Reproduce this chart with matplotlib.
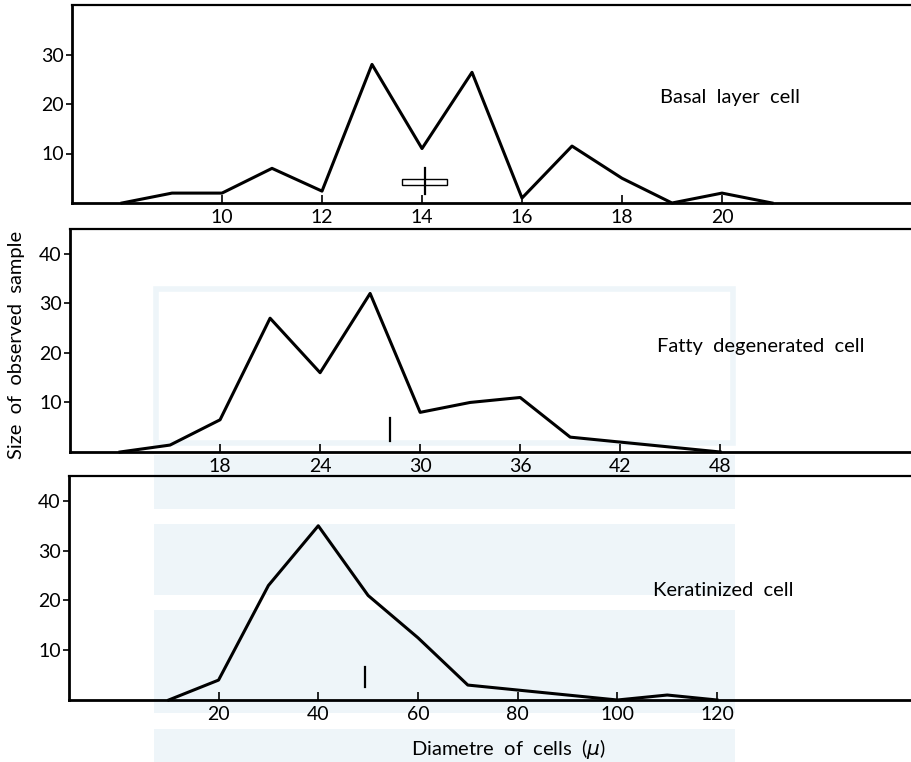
import matplotlib
matplotlib.use("Agg")
import matplotlib.pyplot as plt
from matplotlib.patches import Rectangle

plt.rcParams['font.family'] = ['Lato', 'DejaVu Sans']

# basal layer cells
basal_x = [8, 9, 10, 11, 12, 13, 14, 15, 16, 17, 18, 19, 20, 21]
basal_n = [0, 2, 2, 7, 2.4, 28, 11, 26.4, 1, 11.5, 5, 0, 2, 0]
basal_mean = 14.07
basal_ci = (13.6, 14.5)
basal_band = (3.6, 4.9)
basal_range = (1.8, 7.1)

# fatty degenerated cells
fatty_x = [12, 15, 18, 21, 24, 27, 30, 33, 36, 39, 42, 45, 48]
fatty_n = [0, 1.4, 6.5, 27, 16, 32, 8, 10, 11, 3, 2, 1, 0]
fatty_mean = 28.2
fatty_range = (2.3, 6.8)

# keratinized cells
kera_x = [10, 20, 30, 40, 50, 60, 70, 80, 90, 100, 110, 120]
kera_n = [0, 4, 23, 35, 21, 12.5, 3, 2, 1, 0, 1, 0]
kera_mean = 49.4
kera_range = (2.7, 6.6)

W, H = 912, 762
fig = plt.figure(figsize=(W / 100, H / 100), dpi=100)

# faint background watermark
wm = '#eef5f9'
fig.patches.append(Rectangle((156 / W, 1 - 443 / H), 577 / W, 154 / H,
                             transform=fig.transFigure, fill=False,
                             ec=wm, lw=4, zorder=-5))
for top, bot in [(455, 509), (524, 595), (610, 713), (729, 762)]:
    fig.patches.append(Rectangle((154 / W, 1 - bot / H), 581 / W, (bot - top) / H,
                                 transform=fig.transFigure, color=wm, lw=0, zorder=-5))


def panel(left, top, bottom, xlim, ylim, xticks, yticks):
    ax = fig.add_axes([left / W, 1 - bottom / H, (W - left) / W, (bottom - top) / H])
    ax.patch.set_alpha(0)
    ax.set_xlim(*xlim)
    ax.set_ylim(*ylim)
    ax.set_xticks(xticks)
    ax.set_yticks(yticks)
    ax.spines['right'].set_visible(False)
    for s in ['left', 'bottom']:
        ax.spines[s].set_linewidth(2)
    ax.spines['top'].set_linewidth(1.6)
    ax.tick_params(axis='x', direction='in', length=6, width=1.2, labelsize=14, pad=4)
    ax.tick_params(axis='y', direction='out', length=4, width=1.2, labelsize=14, pad=2)
    return ax


lw = 2.2

ax1 = panel(72, 5, 203, (7, 23.8), (0, 40), [10, 12, 14, 16, 18, 20], [10, 20, 30])
ax1.plot(basal_x, basal_n, color='black', lw=lw, clip_on=False)
ax1.add_patch(Rectangle((basal_ci[0], basal_band[0]), basal_ci[1] - basal_ci[0],
                        basal_band[1] - basal_band[0], fill=False, ec='black', lw=1))
ax1.plot([basal_mean, basal_mean], basal_range, color='black', lw=1.6)
ax1.text(0.70, 0.535, 'Basal  layer  cell', transform=ax1.transAxes,
         fontsize=14.5, va='center')

ax2 = panel(70, 229, 452, (9, 59.5), (0, 45), [18, 24, 30, 36, 42, 48], [10, 20, 30, 40])
ax2.plot(fatty_x, fatty_n, color='black', lw=lw, clip_on=False)
ax2.plot([fatty_mean, fatty_mean], fatty_range, color='black', lw=1.6)
ax2.text(0.697, 0.471, 'Fatty  degenerated  cell', transform=ax2.transAxes,
         fontsize=14.5, va='center')

ax3 = panel(69, 476, 700, (-10, 159.1), (0, 45), [20, 40, 60, 80, 100, 120], [10, 20, 30, 40])
ax3.plot(kera_x, kera_n, color='black', lw=lw, clip_on=False)
ax3.plot([kera_mean, kera_mean], kera_range, color='black', lw=1.6)
ax3.text(0.693, 0.487, 'Keratinized  cell', transform=ax3.transAxes,
         fontsize=14.5, va='center')

fig.text(17 / W, 1 - 345 / H, 'Size  of  observed  sample', rotation=90,
         ha='center', va='center', fontsize=14.5)
fig.text(508 / W, 1 - 749 / H, 'Diametre  of  cells  ($\\mu$)', ha='center',
         va='center', fontsize=14.5)

fig.savefig('out.png', dpi=100)
